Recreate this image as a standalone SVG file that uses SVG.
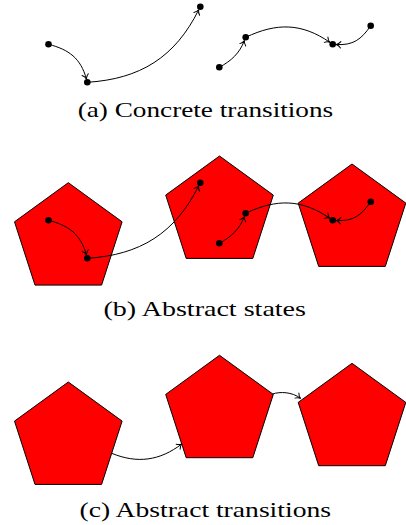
<svg xmlns="http://www.w3.org/2000/svg" width="406" height="525" viewBox="0 0 406 525">
<defs>
<style>
.dot{fill:#000}
.pent{fill:#ff0000;stroke:#000;stroke-width:1;stroke-linejoin:miter}
.edge{fill:none;stroke:#000;stroke-width:1;marker-end:url(#ah)}
.cap{font-family:"Liberation Serif","Times New Roman",serif;font-size:22px;fill:#000}
</style>
<marker id="ah" viewBox="-6 -5 8 10" markerWidth="8" markerHeight="10" refX="0" refY="0" orient="auto" markerUnits="userSpaceOnUse">
<path d="M-4.5,-3.2 C-3,-1.2 -1.2,-0.3 0,0 C-1.2,0.3 -3,1.2 -4.5,3.2" fill="none" stroke="#000" stroke-width="1" stroke-linecap="round" stroke-linejoin="round"/>
</marker>
</defs>
<rect width="406" height="525" fill="#fff"/>

<!-- Panel (b) and (c) abstract states -->
<g id="b-state1"><polygon class="pent" points="68.3,182.7 122.1,221.8 101.6,285.1 35,285.1 14.5,221.8"/></g>
<g id="b-state2"><polygon class="pent" points="219.5,156 273.3,195.1 252.8,258.4 186.2,258.4 165.7,195.1"/></g>
<g id="b-state3"><polygon class="pent" points="352,164 405.8,203.1 385.3,266.4 318.7,266.4 298.2,203.1"/></g>
<g id="c-state1"><polygon class="pent" points="68.3,382 122.1,421.1 101.6,484.4 35,484.4 14.5,421.1"/></g>
<g id="c-state2"><polygon class="pent" points="219.5,355.3 273.3,394.4 252.8,457.7 186.2,457.7 165.7,394.4"/></g>
<g id="c-state3"><polygon class="pent" points="352,363.3 405.8,402.4 385.3,465.7 318.7,465.7 298.2,402.4"/></g>

<g id="connectors">
<path class="edge" d="M48.5,44.3 C69.1,49.6 80.7,58.4 86.4,78.9"/>
<path class="edge" d="M87.3,82.3 C140.2,79 175.1,57.3 198.7,9.8"/>
<path class="edge" d="M219.3,67.3 C231.6,60.6 239.3,53.5 244.4,40.6"/>
<path class="edge" d="M245.7,37.3 C276.6,22.6 301.7,22.9 329.8,42.3"/>
<path class="edge" d="M370.7,25.7 C361.4,39.5 352.8,45.6 336.2,44.5"/>

<path class="edge" d="M48.5,220.3 C69.1,225.6 80.7,234.4 86.4,254.9"/>
<path class="edge" d="M87.3,258.3 C140.2,255 175.1,233.3 198.7,185.8"/>
<path class="edge" d="M219.3,243.3 C231.6,236.6 239.3,229.5 244.4,216.6"/>
<path class="edge" d="M245.7,213.3 C276.6,198.6 301.7,198.9 329.8,218.3"/>
<path class="edge" d="M370.7,201.7 C361.4,215.5 352.8,221.6 336.2,220.5"/>

<path class="edge" d="M111.7,453.3 C137.2,463.8 159.8,460.8 181.7,444"/>
<path class="edge" d="M272.5,394 C280,391.5 292,391.8 300.5,398.3"/>
</g>

<!-- Panel (a) concrete states -->
<g id="a-s1"><circle class="dot" cx="48.5" cy="44.3" r="3.3"/></g>
<g id="a-s2"><circle class="dot" cx="87.3" cy="82.3" r="3.3"/></g>
<g id="a-s3"><circle class="dot" cx="200.3" cy="6.7" r="3.3"/></g>
<g id="a-s4"><circle class="dot" cx="219.3" cy="67.3" r="3.3"/></g>
<g id="a-s5"><circle class="dot" cx="245.7" cy="37.3" r="3.3"/></g>
<g id="a-s6"><circle class="dot" cx="332.7" cy="44.3" r="3.3"/></g>
<g id="a-s7"><circle class="dot" cx="370.7" cy="25.7" r="3.3"/></g>

<!-- Panel (b) concrete states -->
<g id="b-s1"><circle class="dot" cx="48.5" cy="220.3" r="3.3"/></g>
<g id="b-s2"><circle class="dot" cx="87.3" cy="258.3" r="3.3"/></g>
<g id="b-s3"><circle class="dot" cx="200.3" cy="182.7" r="3.3"/></g>
<g id="b-s4"><circle class="dot" cx="219.3" cy="243.3" r="3.3"/></g>
<g id="b-s5"><circle class="dot" cx="245.7" cy="213.3" r="3.3"/></g>
<g id="b-s6"><circle class="dot" cx="332.7" cy="220.3" r="3.3"/></g>
<g id="b-s7"><circle class="dot" cx="370.7" cy="201.7" r="3.3"/></g>

<g id="captions">
<text class="cap" x="77.7" y="116.5" textLength="255.5" lengthAdjust="spacingAndGlyphs">(a) Concrete transitions</text>
<text class="cap" x="103.5" y="316" textLength="202.5" lengthAdjust="spacingAndGlyphs">(b) Abstract states</text>
<text class="cap" x="79.5" y="516.5" textLength="251.5" lengthAdjust="spacingAndGlyphs">(c) Abstract transitions</text>
</g>
</svg>
